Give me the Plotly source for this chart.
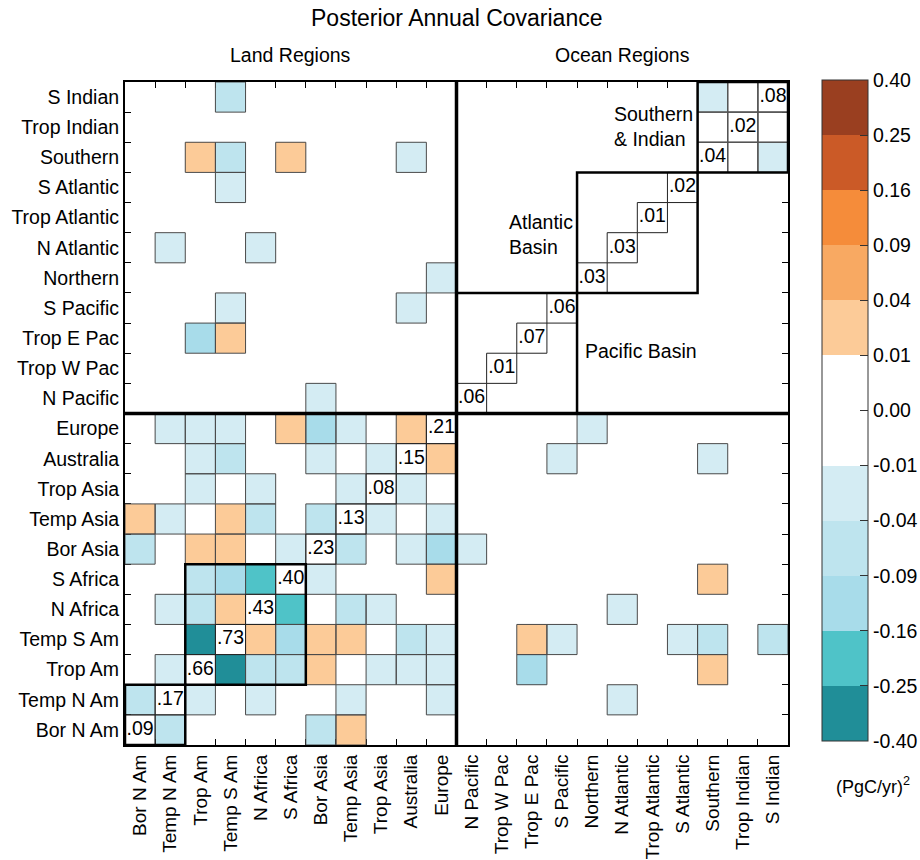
import numpy as np
import plotly.graph_objects as go

# ---------------- data ----------------
regions = ["Bor N Am", "Temp N Am", "Trop Am", "Temp S Am", "N Africa", "S Africa",
           "Bor Asia", "Temp Asia", "Trop Asia", "Australia", "Europe",
           "N Pacific", "Trop W Pac", "Trop E Pac", "S Pacific", "Northern",
           "N Atlantic", "Trop Atlantic", "S Atlantic", "Southern", "Trop Indian", "S Indian"]

variances = [0.09, 0.17, 0.66, 0.73, 0.43, 0.40, 0.23, 0.13, 0.08, 0.15, 0.21,
             0.06, 0.01, 0.07, 0.06, 0.03, 0.03, 0.01, 0.02, 0.04, 0.02, 0.08]
variance_labels = [".09", ".17", ".66", ".73", ".43", ".40", ".23", ".13", ".08", ".15", ".21",
                   ".06", ".01", ".07", ".06", ".03", ".03", ".01", ".02", ".04", ".02", ".08"]

# off-diagonal covariances: row region -> list of (column region, value)
covariances = {
    "Europe": [("Temp N Am", -0.02), ("Trop Am", -0.02), ("Temp S Am", -0.02), ("S Africa", 0.02),
               ("Bor Asia", -0.12), ("Temp Asia", -0.02), ("Australia", 0.02), ("Northern", -0.02)],
    "Australia": [("Trop Am", -0.02), ("Temp S Am", -0.06), ("Bor Asia", -0.02), ("Trop Asia", -0.02),
                  ("Europe", 0.02), ("S Pacific", -0.02), ("Southern", -0.02)],
    "Trop Asia": [("Trop Am", -0.02), ("N Africa", -0.02), ("Temp Asia", -0.02), ("Australia", -0.02)],
    "Temp Asia": [("Bor N Am", 0.02), ("Temp N Am", -0.02), ("Temp S Am", 0.02), ("N Africa", -0.06),
                  ("Bor Asia", -0.06), ("Trop Asia", -0.02), ("Europe", -0.02)],
    "Bor Asia": [("Bor N Am", -0.06), ("Trop Am", 0.02), ("Temp S Am", 0.02), ("S Africa", -0.02),
                 ("Temp Asia", -0.06), ("Australia", -0.02), ("Europe", -0.12), ("N Pacific", -0.02)],
    "S Africa": [("Trop Am", -0.06), ("Temp S Am", -0.12), ("N Africa", -0.20), ("Bor Asia", -0.02),
                 ("Europe", 0.02), ("Southern", 0.02)],
    "N Africa": [("Temp N Am", -0.02), ("Trop Am", -0.06), ("Temp S Am", 0.02), ("S Africa", -0.20),
                 ("Temp Asia", -0.06), ("Trop Asia", -0.02), ("N Atlantic", -0.02)],
    "Temp S Am": [("Trop Am", -0.30), ("N Africa", 0.02), ("S Africa", -0.12), ("Bor Asia", 0.02),
                  ("Temp Asia", 0.02), ("Australia", -0.06), ("Europe", -0.02), ("Trop E Pac", 0.02),
                  ("S Pacific", -0.02), ("S Atlantic", -0.02), ("Southern", -0.06), ("S Indian", -0.06)],
    "Trop Am": [("Temp N Am", -0.02), ("Temp S Am", -0.30), ("N Africa", -0.06), ("S Africa", -0.06),
                ("Bor Asia", 0.02), ("Trop Asia", -0.02), ("Australia", -0.02), ("Europe", -0.02),
                ("Trop E Pac", -0.12), ("Southern", 0.02)],
    "Temp N Am": [("Bor N Am", -0.06), ("Trop Am", -0.02), ("N Africa", -0.02), ("Temp Asia", -0.02),
                  ("Europe", -0.02), ("N Atlantic", -0.02)],
    "Bor N Am": [("Temp N Am", -0.06), ("Bor Asia", -0.06), ("Temp Asia", 0.02)],
    "N Pacific": [("Bor Asia", -0.02)],
    "Trop E Pac": [("Trop Am", -0.12), ("Temp S Am", 0.02)],
    "S Pacific": [("Temp S Am", -0.02), ("Australia", -0.02)],
    "Northern": [("Europe", -0.02)],
    "N Atlantic": [("Temp N Am", -0.02), ("N Africa", -0.02)],
    "S Atlantic": [("Temp S Am", -0.02)],
    "Southern": [("Trop Am", 0.02), ("Temp S Am", -0.06), ("S Africa", 0.02), ("Australia", -0.02),
                 ("S Indian", -0.02)],
    "S Indian": [("Temp S Am", -0.06), ("Southern", -0.02)],
}

bin_edges = [-0.40, -0.25, -0.16, -0.09, -0.04, -0.01, 0.00, 0.01, 0.04, 0.09, 0.16, 0.25, 0.40]
bin_labels = ["-0.40", "-0.25", "-0.16", "-0.09", "-0.04", "-0.01", "0.00",
              "0.01", "0.04", "0.09", "0.16", "0.25", "0.40"]
bin_colors = ["#208e98", "#4fc3c8", "#a8dcea", "#bee4ee", "#d4ecf3", "#ffffff",
              "#ffffff", "#fccb98", "#f8a962", "#f58c3a", "#cb5a27", "#9a3f20"]

# blocks (first region, last region) with thick outlines
blocks = [("Bor N Am", "Temp N Am"), ("Trop Am", "S Africa"),
          ("N Pacific", "S Pacific"), ("Northern", "S Atlantic"), ("Southern", "S Indian")]

# ---------------- build ----------------
n = len(regions)
idx = {r: i for i, r in enumerate(regions)}
z = [[None] * n for _ in range(n)]
colored = []
for row, items in covariances.items():
    for col, val in items:
        b = int(np.searchsorted(bin_edges, val, side="right") - 1)
        b = min(max(b, 0), len(bin_colors) - 1)
        z[idx[row]][idx[col]] = b + 0.5
        colored.append((idx[col], idx[row]))

nb = len(bin_colors)
colorscale = []
for k, c in enumerate(bin_colors):
    colorscale.append([k / nb, c])
    colorscale.append([(k + 1) / nb, c])

FONT = "Liberation Sans, Arial, Helvetica, sans-serif"
FS = 19.5
PW = 663.0  # plot size in px (width == height)
fig = go.Figure()
fig.add_trace(go.Heatmap(
    z=z, x=list(range(n)), y=list(range(n)), zmin=0, zmax=nb,
    colorscale=colorscale, hoverongaps=False,
    colorbar=dict(
        tickmode="array", tickvals=list(range(nb + 1)), ticktext=bin_labels,
        ticks="inside", ticklen=8, tickcolor="#333", tickwidth=1,
        thickness=46, thicknessmode="pixels",
        len=661 / PW, lenmode="fraction", y=(745 - 410.5) / PW, yanchor="middle",
        x=(822 - 125) / PW, xanchor="left", xpad=0, ypad=0,
        outlinecolor="#333", outlinewidth=1,
        tickfont=dict(family=FONT, size=FS, color="black"),
    ),
))

fig.add_trace(go.Scatter(
    x=list(range(n)), y=list(range(n)), mode="text", text=variance_labels,
    textfont=dict(family=FONT, size=FS, color="black"), hoverinfo="skip", showlegend=False,
))

shapes = []
# thin borders around colored cells
for (cx, cy) in colored:
    shapes.append(dict(type="rect", xref="x", yref="y", x0=cx - 0.5, x1=cx + 0.5,
                       y0=cy - 0.5, y1=cy + 0.5, line=dict(color="#4a4a4a", width=1)))
# diagonal cells
for i in range(n):
    shapes.append(dict(type="rect", xref="x", yref="y", x0=i - 0.5, x1=i + 0.5,
                       y0=i - 0.5, y1=i + 0.5, line=dict(color="#222", width=1)))
# Southern & Indian block cells all outlined
s0 = idx["Southern"]
for i in range(s0, n):
    for j in range(s0, n):
        shapes.append(dict(type="rect", xref="x", yref="y", x0=i - 0.5, x1=i + 0.5,
                           y0=j - 0.5, y1=j + 0.5, line=dict(color="#555", width=1)))
# thick block outlines
for a, b in blocks:
    i0, i1 = idx[a], idx[b]
    shapes.append(dict(type="rect", xref="x", yref="y", x0=i0 - 0.5, x1=i1 + 0.5,
                       y0=i0 - 0.5, y1=i1 + 0.5, line=dict(color="black", width=2.5)))
# land / ocean dividers
split = idx["Europe"] + 0.5
shapes.append(dict(type="line", xref="x", yref="y", x0=split, x1=split, y0=-0.5, y1=n - 0.5,
                   line=dict(color="black", width=3.5)))
shapes.append(dict(type="line", xref="x", yref="y", x0=-0.5, x1=n - 0.5, y0=split, y1=split,
                   line=dict(color="black", width=3.5)))

annotations = [
    dict(text="Posterior Annual Covariance", x=(457 - 125) / PW, xref="paper", y=1 + 64 / PW, yref="paper",
         showarrow=False, font=dict(family=FONT, size=23, color="black"), xanchor="center", yanchor="middle"),
    dict(text="Land Regions", x=5, xref="x", y=1 + 27 / PW, yref="paper",
         showarrow=False, font=dict(family=FONT, size=FS, color="black"), xanchor="center", yanchor="middle"),
    dict(text="Ocean Regions", x=16, xref="x", y=1 + 27 / PW, yref="paper",
         showarrow=False, font=dict(family=FONT, size=FS, color="black"), xanchor="center", yanchor="middle"),
    dict(text="Southern<br>& Indian", x=15.66, xref="x", y=20.04, yref="y", align="left",
         showarrow=False, font=dict(family=FONT, size=FS, color="black"), xanchor="left", yanchor="middle"),
    dict(text="Atlantic<br>Basin", x=12.17, xref="x", y=16.44, yref="y", align="left",
         showarrow=False, font=dict(family=FONT, size=FS, color="black"), xanchor="left", yanchor="middle"),
    dict(text="Pacific Basin", x=14.7, xref="x", y=12.58, yref="y", align="left",
         showarrow=False, font=dict(family=FONT, size=FS, color="black"), xanchor="left", yanchor="middle"),
    dict(text="(PgC/yr)<sup>2</sup>", x=(873 - 125) / PW, xref="paper", y=-40 / PW, yref="paper",
         showarrow=False, font=dict(family=FONT, size=18, color="black"), xanchor="center", yanchor="middle"),
]

axis_common = dict(
    range=[-0.5, n - 0.5], tickmode="array", tickvals=list(range(n)), ticktext=regions,
    ticks="", showgrid=False, zeroline=False, showline=True, linecolor="black", linewidth=2,
    mirror="allticks", automargin=False,
    minor=dict(tickmode="array", tickvals=[i + 0.5 for i in range(n - 1)], ticks="inside",
               ticklen=6, tickcolor="black", tickwidth=1, showgrid=False),
)

fig.update_layout(
    width=920, height=860,
    margin=dict(l=125, r=132, t=82, b=115, autoexpand=False),
    paper_bgcolor="white", plot_bgcolor="white",
    xaxis=dict(**axis_common, tickangle=-90, tickfont=dict(family=FONT, size=19, color="black")),
    yaxis=dict(**axis_common, tickfont=dict(family=FONT, size=FS, color="black")),
    shapes=shapes, annotations=annotations, showlegend=False,
    font=dict(family=FONT, color="black"),
)

fig.write_html("out.html")
